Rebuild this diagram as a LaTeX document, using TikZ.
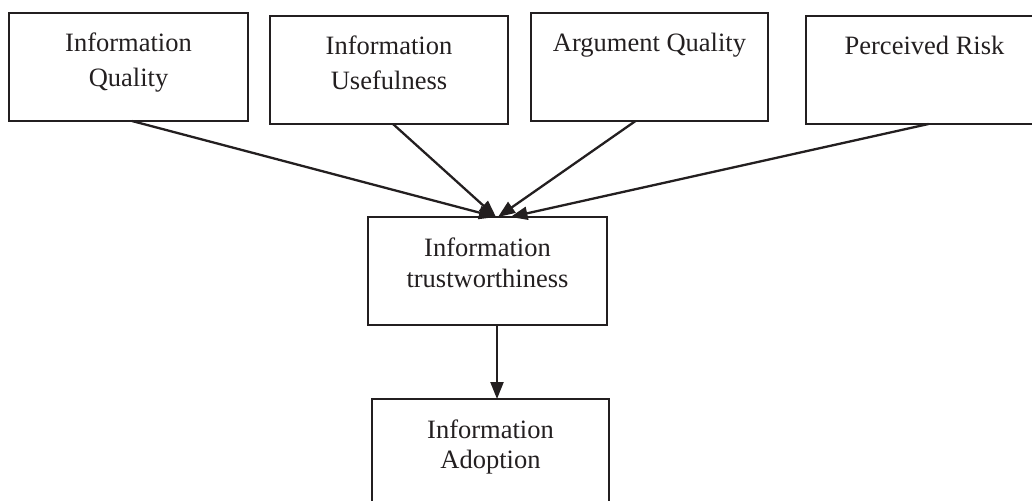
\documentclass[tikz,border=0pt]{standalone}
\usepackage{fontspec}
\setmainfont{Liberation Serif}
\usetikzlibrary{arrows.meta}
\definecolor{ink}{HTML}{231F20}
\newcommand{\boxcontent}[4]{%
  \parbox[t][#2][t]{#1}{\fontsize{26.5}{#3}\selectfont\centering\rule{0pt}{39pt}#4\par}}
\tikzset{
  cbox/.style={draw=ink, line width=2.6pt, inner sep=0pt, outer sep=0pt, anchor=north west, text=ink},
  link/.style={draw=ink, line width=2.3pt, -{Triangle[length=17pt,width=13pt]}}
}
\begin{document}
\begin{tikzpicture}[x=1pt, y=-1pt]
\useasboundingbox (0,0) rectangle (1032,500);
\clip (0,0) rectangle (1032,500);
\node[cbox] (q) at (9,13) {\boxcontent{239pt}{108pt}{35pt}{Information\\Quality}};
\node[cbox] (u) at (270,16) {\boxcontent{238pt}{108pt}{35pt}{Information\\Usefulness}};
\node[cbox] (a) at (531,13) {\boxcontent{237pt}{108pt}{35pt}{Argument Quality}};
\node[cbox] (p) at (806,16) {\boxcontent{237pt}{108pt}{35pt}{Perceived Risk}};
\node[cbox] (t) at (368,217) {\boxcontent{239pt}{108pt}{31pt}{Information\\trustworthiness}};
\node[cbox] (ad) at (372,399) {\boxcontent{237pt}{108pt}{30pt}{Information\\Adoption}};
\draw[link] ([xshift=3.5pt]q.south) -- ([xshift=8.5pt]t.north);
\draw[link] ([xshift=4pt]u.south) -- ([xshift=8.5pt]t.north);
\draw[link] ([xshift=-14pt]a.south) -- ([xshift=10.5pt]t.north);
\draw[link] ([xshift=4pt]p.south) -- ([xshift=23pt]t.north);
\draw[link] ([xshift=9.5pt]t.south) -- ([xshift=9.5pt]t.south |- ad.north);
\end{tikzpicture}
\end{document}
